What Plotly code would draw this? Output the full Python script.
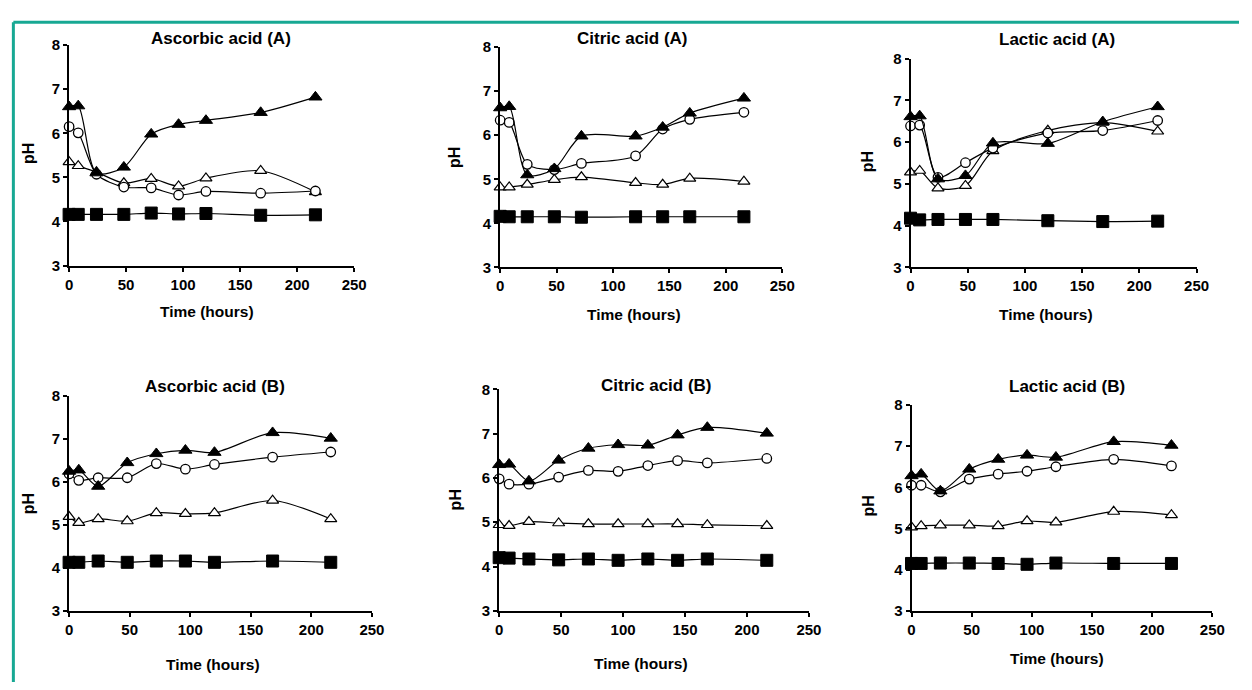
import plotly.graph_objects as go

# ---------------- data (pH vs time in hours) ----------------
# Ascorbic acid (A)
asc_a_time = [0, 8, 24, 48, 72, 96, 120, 168, 216]
asc_a_filled_tri = [6.60, 6.62, 5.10, 5.23, 5.98, 6.20, 6.29, 6.47, 6.82]
asc_a_open_circ = [6.15, 6.01, 5.07, 4.78, 4.76, 4.60, 4.68, 4.64, 4.69]
asc_a_open_tri = [5.35, 5.26, 5.12, 4.87, 4.97, 4.80, 4.98, 5.15, 4.67]
asc_a_square = [4.16, 4.16, 4.16, 4.16, 4.19, 4.17, 4.18, 4.14, 4.15]

# Citric acid (A)
cit_a_time = [0, 8, 24, 48, 72, 120, 144, 168, 216]
cit_a_filled_tri = [6.62, 6.65, 5.10, 5.24, 5.98, 5.98, 6.18, 6.50, 6.84]
cit_a_open_circ = [6.34, 6.29, 5.34, 5.22, 5.36, 5.53, 6.14, 6.36, 6.52]
cit_a_open_tri = [4.82, 4.82, 4.88, 4.99, 5.05, 4.92, 4.88, 5.02, 4.95]
cit_a_square = [4.16, 4.15, 4.15, 4.15, 4.14, 4.15, 4.15, 4.15, 4.15]

# Lactic acid (A)
lac_a_time = [0, 8, 24, 48, 72, 120, 168, 216]
lac_a_filled_tri = [6.61, 6.63, 5.12, 5.20, 5.98, 5.97, 6.49, 6.85]
lac_a_open_circ = [6.39, 6.41, 5.16, 5.51, 5.86, 6.22, 6.28, 6.52]
lac_a_open_tri = [5.28, 5.32, 4.90, 4.96, 5.79, 6.28, 6.47, 6.26]
lac_a_square = [4.18, 4.14, 4.15, 4.15, 4.15, 4.12, 4.10, 4.11]

# Ascorbic acid (B)
asc_b_time = [0, 8, 24, 48, 72, 96, 120, 168, 216]
asc_b_filled_tri = [6.25, 6.28, 5.90, 6.45, 6.66, 6.74, 6.69, 7.15, 7.02]
asc_b_open_circ = [6.19, 6.04, 6.10, 6.10, 6.43, 6.30, 6.41, 6.58, 6.70]
asc_b_open_tri = [5.19, 5.05, 5.14, 5.09, 5.28, 5.26, 5.28, 5.57, 5.14]
asc_b_square = [4.13, 4.13, 4.16, 4.13, 4.16, 4.16, 4.13, 4.16, 4.13]

# Citric acid (B)
cit_b_time = [0, 8, 24, 48, 72, 96, 120, 144, 168, 216]
cit_b_filled_tri = [6.30, 6.31, 5.93, 6.40, 6.67, 6.75, 6.74, 6.97, 7.14, 7.01]
cit_b_open_circ = [5.98, 5.86, 5.86, 6.02, 6.17, 6.15, 6.28, 6.39, 6.34, 6.44]
cit_b_open_tri = [4.94, 4.92, 5.01, 4.98, 4.96, 4.96, 4.96, 4.96, 4.94, 4.92]
cit_b_square = [4.20, 4.19, 4.17, 4.15, 4.17, 4.14, 4.17, 4.14, 4.17, 4.14]

# Lactic acid (B)
lac_b_time = [0, 8, 24, 48, 72, 96, 120, 168, 216]
lac_b_filled_tri = [6.28, 6.32, 5.91, 6.44, 6.68, 6.78, 6.73, 7.11, 7.02]
lac_b_open_circ = [6.05, 6.05, 5.89, 6.20, 6.32, 6.39, 6.50, 6.68, 6.52]
lac_b_open_tri = [5.03, 5.06, 5.08, 5.08, 5.06, 5.18, 5.15, 5.41, 5.33]
lac_b_square = [4.15, 4.15, 4.16, 4.16, 4.15, 4.13, 4.16, 4.15, 4.15]

panel_titles = ["Ascorbic acid (A)", "Citric acid (A)", "Lactic acid (A)",
                "Ascorbic acid (B)", "Citric acid (B)", "Lactic acid (B)"]
x_label = "Time (hours)"
y_label = "pH"
x_ticks = [0, 50, 100, 150, 200, 250]
y_ticks = [3, 4, 5, 6, 7, 8]

panels = [
    (asc_a_time, asc_a_square, asc_a_open_tri, asc_a_open_circ, asc_a_filled_tri),
    (cit_a_time, cit_a_square, cit_a_open_tri, cit_a_open_circ, cit_a_filled_tri),
    (lac_a_time, lac_a_square, lac_a_open_tri, lac_a_open_circ, lac_a_filled_tri),
    (asc_b_time, asc_b_square, asc_b_open_tri, asc_b_open_circ, asc_b_filled_tri),
    (cit_b_time, cit_b_square, cit_b_open_tri, cit_b_open_circ, cit_b_filled_tri),
    (lac_b_time, lac_b_square, lac_b_open_tri, lac_b_open_circ, lac_b_filled_tri),
]

# ---------------- layout (pixel geometry) ----------------
W, H = 1252, 690
# plot area: left, right, top, bottom (px)
boxes = [
    (66, 355, 37, 263),
    (503, 789, 39, 265),
    (919, 1209, 51, 265),
    (66, 373, 397, 617),
    (502, 816, 390, 617),
    (920, 1225, 406, 617),
]
title_pos = [(220, 30), (637, 30), (1067, 31), (214, 387), (661, 386), (1078, 387)]
xlab_pos = [(206, 310), (639, 313), (1056, 313), (212, 672), (646, 671), (1068, 666)]
ylab_pos = [(25, 148), (456, 152), (875, 157), (25, 507), (458, 503), (876, 510)]

FONT = "Arial, Liberation Sans, sans-serif"

def px(x):
    return x / W

def py(y):
    return 1 - y / H

fig = go.Figure()

styles = [
    dict(symbol="square", size=12, color="black", line=dict(color="black", width=1)),
    dict(symbol="triangle-up", size=10.5, color="white", line=dict(color="black", width=1.2)),
    dict(symbol="circle", size=9.5, color="white", line=dict(color="black", width=1.3)),
    dict(symbol="triangle-up", size=11.5, color="black", line=dict(color="black", width=1)),
]

for i, (t, *series) in enumerate(panels):
    n = "" if i == 0 else str(i + 1)
    for s, st in zip(series, styles):
        fig.add_trace(go.Scatter(
            x=t, y=s, mode="lines+markers",
            line=dict(color="black", width=1.2, shape="spline", smoothing=0.8),
            marker=st, cliponaxis=False, showlegend=False,
            xaxis="x" + n, yaxis="y" + n,
        ))
    l, r, tp, b = boxes[i]
    axis_common = dict(
        showgrid=False, zeroline=False, showline=True, linewidth=2, linecolor="black",
        ticks="outside", ticklen=4, tickwidth=2, tickcolor="black",
        tickfont=dict(family=FONT, size=15, color="black", weight="bold"),
        fixedrange=True,
    )
    fig.layout["xaxis" + n] = dict(
        domain=[px(l), px(r)], range=[0, 250], tickvals=x_ticks,
        anchor="y" + n, **axis_common)
    fig.layout["yaxis" + n] = dict(
        domain=[py(b), py(tp)], range=[3, 8], tickvals=y_ticks,
        anchor="x" + n, **axis_common)

    fig.add_annotation(text=panel_titles[i], x=px(title_pos[i][0]), y=py(title_pos[i][1]),
                       xref="paper", yref="paper", showarrow=False,
                       xanchor="center", yanchor="middle",
                       font=dict(family=FONT, size=17, color="black", weight="bold"))
    fig.add_annotation(text=x_label, x=px(xlab_pos[i][0]), y=py(xlab_pos[i][1]),
                       xref="paper", yref="paper", showarrow=False,
                       xanchor="center", yanchor="middle",
                       font=dict(family=FONT, size=15.5, color="black", weight="bold"))
    fig.add_annotation(text=y_label, x=px(ylab_pos[i][0]), y=py(ylab_pos[i][1]),
                       xref="paper", yref="paper", showarrow=False, textangle=-90,
                       xanchor="center", yanchor="middle",
                       font=dict(family=FONT, size=16, color="black", weight="bold"))

# teal frame lines (top and left)
TEAL = "#17a893"
fig.add_shape(type="line", xref="paper", yref="paper",
              x0=px(9.5), x1=1, y0=py(13.5), y1=py(13.5),
              line=dict(color=TEAL, width=3))
fig.add_shape(type="line", xref="paper", yref="paper",
              x0=px(9.5), x1=px(9.5), y0=py(13.5), y1=0,
              line=dict(color=TEAL, width=3))

fig.update_layout(width=W, height=H, margin=dict(l=0, r=0, t=0, b=0),
                  paper_bgcolor="white", plot_bgcolor="white", showlegend=False)

fig.write_html("out.html", config={"displayModeBar": False},
               post_script="document.body.style.margin='0';")
